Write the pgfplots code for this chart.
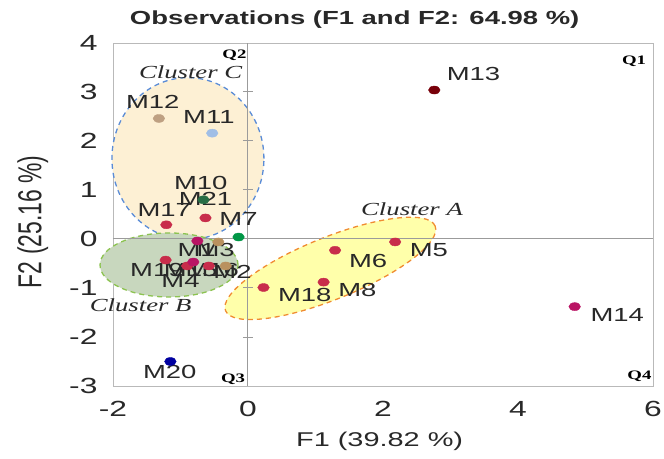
\documentclass[border=0pt]{standalone}
\usepackage{fontspec}
\setmainfont{Liberation Sans}[FakeStretch=1.45]
\newfontfamily\plainsans{Liberation Sans}
\newfontfamily\qfont{Liberation Serif}[FakeStretch=1.45]
\usepackage{graphicx}
\usepackage{pgfplots}
\pgfplotsset{compat=1.18}
\definecolor{boxgray}{RGB}{185,185,185}
\definecolor{midgray}{RGB}{155,155,155}
\definecolor{cRed}{RGB}{200,45,75}
\definecolor{cMag}{RGB}{185,20,100}
\definecolor{cBrown}{RGB}{185,145,95}
\definecolor{cGreen}{RGB}{0,150,70}
\definecolor{cDkGreen}{RGB}{40,110,70}
\definecolor{cDkRed}{RGB}{120,0,10}
\definecolor{cTan}{RGB}{190,160,130}
\definecolor{cLtBlue}{RGB}{160,190,230}
\definecolor{cNavy}{RGB}{0,0,160}
\definecolor{fillC}{RGB}{253,240,212}
\definecolor{lineC}{RGB}{90,140,215}
\definecolor{fillB}{RGB}{200,215,190}
\definecolor{lineB}{RGB}{140,195,80}
\definecolor{fillA}{RGB}{255,255,170}
\definecolor{lineA}{RGB}{240,140,50}
\definecolor{txt}{RGB}{40,40,40}
\begin{document}
\begin{tikzpicture}
\useasboundingbox (-113bp,-73bp) rectangle (551bp,386bp);
\begin{axis}[
  at={(0,0)}, anchor=south west,
  scale only axis, width=540bp, height=343bp,
  xmin=-2, xmax=6, ymin=-3, ymax=4,
  xtick={-2,0,2,4,6}, ytick={-3,-2,-1,0,1,2,3,4},
  major tick length=0pt,
  axis line style={draw=boxgray, line width=0.9bp},
  tick label style={font=\fontsize{22}{22}\selectfont, text=txt},
  /pgf/number format/assume math mode=true,
  xticklabel style={yshift=-12bp},
  yticklabel style={xshift=-12bp},
  clip=false,
  every axis plot/.append style={only marks, mark=*, mark size=4bp, mark options={xscale=1.45, draw=none}},
]
% cluster ellipses
\draw[fill=fillC, draw=lineC, dash pattern=on 5bp off 4bp, line width=1.3bp] (axis cs:-0.89,1.64) ellipse [x radius=76bp, y radius=81bp];
\draw[fill=fillB, draw=lineB, dash pattern=on 5bp off 4bp, line width=1.3bp] (axis cs:-1.17,-0.53) ellipse [x radius=69bp, y radius=32bp];
\draw[fill=fillA, draw=lineA, dash pattern=on 5bp off 4bp, line width=1.3bp, rotate around={22:(axis cs:1.22,-0.60)}] (axis cs:1.22,-0.60) ellipse [x radius=113bp, y radius=31bp];
% central axes
\draw[midgray, line width=1bp] (axis cs:0,-3) -- (axis cs:0,4);
\draw[midgray, line width=1bp] (axis cs:-2,0) -- (axis cs:6,0);
\pgfplotsinvokeforeach{-2,-1,1,2,3}{\draw[midgray, line width=1bp] ([xshift=-5bp]axis cs:0,#1) -- ([xshift=5bp]axis cs:0,#1);}
% points
\addplot[color=cRed] coordinates {(-0.63,0.43) (-1.21,0.29) (2.18,-0.06) (1.29,-0.23) (1.12,-0.88) (0.23,-0.99) (-1.22,-0.43) (-0.58,-0.55) (-0.90,-0.55)};
\addplot[color=cMag] coordinates {(-0.75,-0.04) (-0.81,-0.47) (4.84,-1.38)};
\addplot[color=cBrown] coordinates {(-0.44,-0.06) (-0.33,-0.55)};
\addplot[color=cGreen] coordinates {(-0.14,0.04)};
\addplot[color=cDkGreen] coordinates {(-0.66,0.80)};
\addplot[color=cDkRed] coordinates {(2.76,3.04)};
\addplot[color=cTan] coordinates {(-1.32,2.46)};
\addplot[color=cLtBlue] coordinates {(-0.53,2.16)};
\addplot[color=cNavy] coordinates {(-1.15,-2.50)};
% point labels
\begin{scope}[every node/.style={font=\fontsize{19}{19}\selectfont, text=txt, inner sep=0pt}]
\node at (axis cs:3.34,3.37) {M13};
\node at (axis cs:5.47,-1.56) {M14};
\node at (axis cs:-1.41,2.79) {M12};
\node at (axis cs:-0.58,2.48) {M11};
\node at (axis cs:-0.70,1.15) {M10};
\node at (axis cs:-0.63,0.82) {M21};
\node at (axis cs:-1.24,0.60) {M17};
\node at (axis cs:-0.14,0.41) {M7};
\node at (axis cs:-0.76,-0.23) {M1};
\node at (axis cs:-0.48,-0.23) {M3};
\node at (axis cs:-1.35,-0.64) {M19};
\node at (axis cs:-0.85,-0.64) {M15};
\node at (axis cs:-0.53,-0.64) {M16};
\node at (axis cs:-0.23,-0.68) {M2};
\node at (axis cs:-1.00,-0.86) {M4};
\node at (axis cs:2.68,-0.23) {M5};
\node at (axis cs:1.78,-0.45) {M6};
\node at (axis cs:0.84,-1.15) {M18};
\node at (axis cs:1.62,-1.05) {M8};
\node at (axis cs:-1.16,-2.71) {M20};
\end{scope}
% cluster labels
\begin{scope}[every node/.style={font=\qfont\itshape\fontsize{18.5}{18.5}\selectfont, text=txt, inner sep=0pt}]
\node at (axis cs:-0.85,3.41) {Cluster C};
\node at (axis cs:2.43,0.60) {Cluster A};
\node at (axis cs:-1.59,-1.36) {Cluster B};
\end{scope}
% quadrant labels
\begin{scope}[every node/.style={font=\qfont\bfseries\fontsize{13}{13}\selectfont, text=black, inner sep=0pt}]
\node[anchor=east] at (axis cs:-0.02,3.74) {Q2};
\node[anchor=east] at (axis cs:5.90,3.62) {Q1};
\node[anchor=east] at (axis cs:-0.04,-2.86) {Q3};
\node[anchor=east] at (axis cs:5.98,-2.80) {Q4};
\end{scope}
% title and axis labels
\node[font=\bfseries\fontsize{19}{19}\selectfont, text=txt] at (axis cs:1.58,4.47) {Observations (F1 and F2: 64.98 \%)};
\node[font=\fontsize{20}{20}\selectfont, text=txt] at (axis cs:1.95,-4.13) {F1 (39.82 \%)};
\node[font=\plainsans\fontsize{23}{23}\selectfont, text=txt, rotate=90] at (axis cs:-3.19,0.35) {\scalebox{1}[1.45]{F2 (25.16 \%)}};
\end{axis}
\end{tikzpicture}
\end{document}
